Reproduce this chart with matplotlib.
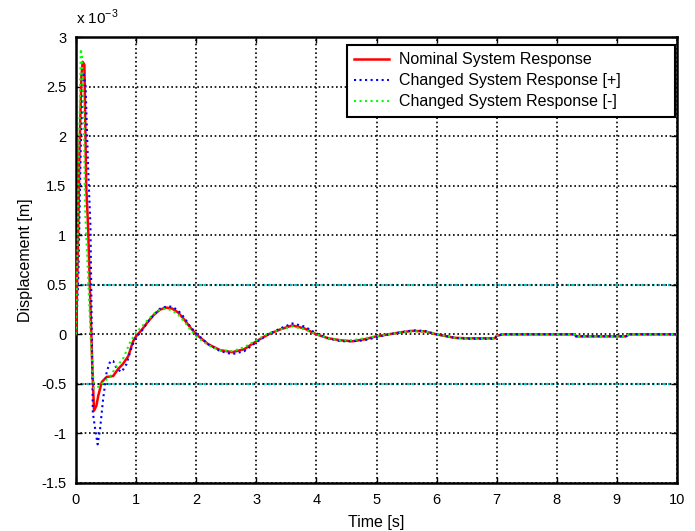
import numpy as np
import matplotlib
matplotlib.use('Agg')
import matplotlib.pyplot as plt
from matplotlib.ticker import FuncFormatter

# Displacement values are in units of 1e-3 m
t_nom = [0, 0.03, 0.06, 0.09, 0.11, 0.14, 0.17, 0.2, 0.24, 0.27, 0.3, 0.34, 0.37,
         0.43, 0.51, 0.62, 0.7, 0.78, 0.87, 0.95, 1.0, 1.1, 1.2, 1.3, 1.4, 1.5,
         1.6, 1.7, 1.8, 1.9, 2.0, 2.2, 2.4, 2.6, 2.8, 3.0, 3.2, 3.4, 3.6, 3.8,
         4.0, 4.2, 4.4, 4.6, 4.8, 5.0, 5.2, 5.4, 5.6, 5.8, 6.0, 6.3, 6.5, 6.97,
         7.0, 7.1, 8.3, 8.32, 9.15, 9.2, 10]
v_nom = [0, 0.8, 1.9, 2.6, 2.75, 2.72, 1.5, 1.1, 0.3, -0.3, -0.77, -0.72, -0.62,
         -0.48, -0.43, -0.42, -0.35, -0.30, -0.22, -0.07, -0.02, 0.05, 0.13, 0.2, 0.25, 0.27,
         0.26, 0.22, 0.15, 0.07, 0.0, -0.1, -0.16, -0.18, -0.15, -0.07, 0.0, 0.05, 0.09, 0.06,
         0.0, -0.04, -0.06, -0.07, -0.05, -0.02, 0.0, 0.02, 0.035, 0.03, 0.0, -0.035, -0.04, -0.04,
         -0.015, 0.0, 0.0, -0.02, -0.02, 0.0, 0.0]

t_pos = [0, 0.04, 0.08, 0.12, 0.16, 0.2, 0.24, 0.28, 0.32, 0.36, 0.4, 0.45, 0.51,
         0.57, 0.62, 0.68, 0.76, 0.84, 0.93, 1.0, 1.1, 1.2, 1.3, 1.4, 1.5,
         1.6, 1.7, 1.8, 1.9, 2.0, 2.2, 2.4, 2.6, 2.8, 3.0, 3.2, 3.4, 3.6, 3.8,
         4.0, 4.2, 4.4, 4.6, 4.8, 5.0, 5.2, 5.4, 5.6, 5.8, 6.0, 6.3, 6.5, 6.97,
         7.0, 7.1, 8.3, 8.32, 9.15, 9.2, 10]
v_pos = [0, 0.6, 1.9, 2.65, 2.5, 1.7, 1.1, -0.79, -0.96, -1.11, -0.96, -0.66, -0.38,
         -0.27, -0.27, -0.35, -0.38, -0.30, -0.12, -0.03, 0.04, 0.13, 0.2, 0.26, 0.28,
         0.28, 0.24, 0.17, 0.08, 0.01, -0.1, -0.17, -0.2, -0.17, -0.08, 0.0, 0.06, 0.11, 0.08,
         0.01, -0.04, -0.07, -0.07, -0.06, -0.03, 0.0, 0.02, 0.04, 0.035, 0.0, -0.035, -0.045, -0.045,
         -0.015, 0.0, 0.0, -0.02, -0.02, 0.0, 0.0]

t_neg = [0, 0.03, 0.06, 0.08, 0.1, 0.13, 0.15, 0.2, 0.25, 0.3, 0.4, 0.48, 0.57,
         0.68, 0.78, 0.9, 1.0, 1.1, 1.2, 1.3, 1.4, 1.5, 1.6, 1.7, 1.8, 1.9,
         2.0, 2.2, 2.4, 2.6, 2.8, 3.0, 3.2, 3.4, 3.6, 3.8, 4.0, 4.2, 4.4, 4.6,
         4.8, 5.0, 5.2, 5.4, 5.6, 5.8, 6.0, 6.3, 6.5, 6.97, 7.0, 7.1, 8.3, 8.32,
         9.15, 9.2, 10]
v_neg = [0, 1.0, 2.2, 2.88, 2.8, 2.2, 1.29, 0.6, -0.1, -0.55, -0.52, -0.47, -0.42,
         -0.32, -0.25, -0.08, 0.02, 0.08, 0.15, 0.21, 0.25, 0.26, 0.24, 0.2, 0.13, 0.05,
         -0.02, -0.11, -0.16, -0.17, -0.13, -0.06, 0.01, 0.05, 0.08, 0.05, 0.0, -0.04, -0.06, -0.06,
         -0.04, -0.02, 0.0, 0.02, 0.03, 0.03, 0.0, -0.035, -0.04, -0.04, -0.015, 0.0, 0.0, -0.02,
         -0.02, 0.0, 0.0]

limit_band = [0.5, -0.5]
x_ticks = list(range(0, 11))
y_ticks = [-1.5, -1, -0.5, 0, 0.5, 1, 1.5, 2, 2.5, 3]

plt.rcParams['font.family'] = ['Liberation Sans', 'DejaVu Sans']
plt.rcParams['font.size'] = 10.5

fig = plt.figure(figsize=(6.95, 5.31), dpi=100)
ax = fig.add_axes([76 / 695, 48 / 531, 601 / 695, 446 / 531])

# reference band lines
for b in limit_band:
    ax.axhline(b, color='#00c8d0', linestyle=(0, (1.2, 1.2)), linewidth=1.6, zorder=1)

ax.plot(t_nom, v_nom, color='red', linewidth=1.8, label='Nominal System Response', zorder=3)
ax.plot(t_pos, v_pos, color='blue', linestyle=':', linewidth=1.5, label='Changed System Response [+]', zorder=4)
ax.plot(t_neg, v_neg, color='#00ff00', linestyle=':', linewidth=1.5, label='Changed System Response [-]', zorder=4)

ax.set_xlim(0, 10)
ax.set_ylim(-1.5, 3)
ax.set_xticks(x_ticks)
ax.set_yticks(y_ticks)
ax.yaxis.set_major_formatter(FuncFormatter(lambda v, p: '%g' % v))
ax.tick_params(direction='in', length=4, width=1, pad=7, top=True, right=True)
ax.grid(True, color='black', linestyle=(0, (1, 1.6)), linewidth=1.2)
for s in ax.spines.values():
    s.set_linewidth(1.8)

ax.set_xlabel('Time [s]', labelpad=6, fontsize=11.5)
ax.set_ylabel('Displacement [m]', labelpad=6, fontsize=11.5)
fig.text(76 / 695, 1 - 17 / 531, r'x 10$^{\mathregular{-3}}$', ha='left', va='center', fontsize=11)

leg = ax.legend(loc='upper left', bbox_to_anchor=(0.451, 0.0, 0.546, 0.982), mode='expand',
                borderaxespad=0, frameon=True, fancybox=False,
                edgecolor='black', framealpha=1, handlelength=2.2, handletextpad=0.6,
                borderpad=0.45, labelspacing=0.38, fontsize=11.5)
leg.get_frame().set_linewidth(1.5)

fig.savefig('out.png', dpi=100)
